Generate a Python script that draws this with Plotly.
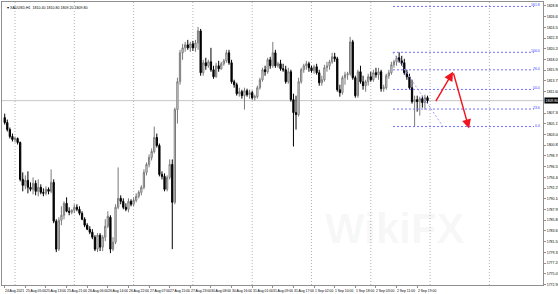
import plotly.graph_objects as go

# ---------------- data (XAUUSD H1) ----------------
bars = list(range(165))
opens = [1806.4,1805.4,1804.0,1802.6,1802.0,1802.2,1801.4,1794.0,1792.8,1793.8,
 1792.4,1792.0,1793.2,1791.6,1792.4,1791.4,1791.2,1792.0,1791.6,1793.4,
 1785.6,1780.0,1785.8,1786.8,1789.2,1787.6,1787.4,1787.8,1788.4,1788.0,
 1787.2,1786.0,1784.8,1784.0,1783.4,1782.4,1780.0,1782.8,1780.4,1782.4,
 1784.6,1786.4,1780.0,1781.4,1788.4,1790.2,1789.6,1788.4,1788.0,1789.6,
 1789.0,1789.8,1790.6,1791.4,1792.4,1795.4,1797.0,1798.4,1799.6,1802.4,
 1800.8,1795.0,1794.6,1792.0,1794.4,1797.0,1789.4,1808.0,1813.6,1819.4,
 1820.4,1821.0,1820.4,1821.2,1820.4,1821.4,1823.8,1815.4,1817.4,1816.8,
 1817.6,1816.0,1814.6,1816.8,1816.2,1817.2,1817.8,1819.4,1817.4,1813.6,
 1813.0,1811.2,1811.6,1810.8,1811.8,1811.0,1811.4,1810.4,1810.6,1812.4,
 1814.0,1816.0,1815.6,1818.0,1816.8,1819.4,1816.8,1817.2,1816.2,1816.0,
 1813.6,1815.6,1810.0,1807.4,1807.0,1813.6,1816.0,1816.8,1817.2,1816.4,
 1815.8,1816.6,1815.4,1813.4,1814.0,1816.4,1816.8,1817.6,1818.6,1818.2,
 1812.0,1811.4,1814.4,1815.0,1815.2,1821.6,1814.4,1810.8,1815.6,1813.6,
 1812.8,1813.6,1814.6,1814.0,1815.4,1815.0,1815.6,1812.2,1812.4,1814.8,
 1815.4,1817.0,1817.6,1818.4,1817.8,1817.4,1815.4,1814.6,1812.4,1809.6,
 1810.0,1809.6,1810.2,1809.4,1810.4]
highs = [1807.2,1806.0,1804.4,1803.2,1802.6,1802.4,1801.6,1795.4,1794.8,1795.6,
 1793.4,1794.4,1793.8,1794.0,1793.0,1792.2,1792.6,1792.4,1796.0,1794.0,
 1786.0,1786.4,1788.6,1789.6,1790.4,1788.4,1788.0,1789.0,1789.0,1788.6,
 1787.6,1786.4,1785.2,1784.6,1784.0,1782.8,1783.2,1783.2,1782.8,1786.0,
 1787.6,1786.8,1782.4,1789.0,1796.4,1790.8,1790.2,1789.2,1790.2,1790.0,
 1790.4,1791.2,1791.8,1792.8,1796.0,1797.4,1799.0,1800.2,1804.6,1803.2,
 1801.2,1795.6,1795.2,1794.8,1798.0,1798.0,1808.4,1814.4,1820.0,1821.2,
 1821.6,1822.0,1821.6,1821.8,1822.0,1824.6,1824.2,1818.0,1818.4,1818.0,
 1820.4,1816.8,1817.4,1817.8,1817.6,1818.2,1820.0,1820.0,1818.0,1814.0,
 1813.4,1812.4,1812.0,1812.4,1812.2,1812.0,1811.8,1811.0,1812.8,1814.4,
 1816.4,1816.8,1818.4,1818.6,1821.6,1820.0,1817.6,1818.0,1817.2,1816.8,
 1816.4,1816.0,1811.2,1810.8,1814.4,1816.4,1817.2,1817.8,1817.6,1816.8,
 1817.0,1817.2,1816.0,1814.8,1817.0,1817.6,1818.0,1819.4,1819.4,1818.6,
 1813.0,1814.8,1815.6,1815.6,1822.6,1822.0,1814.8,1816.0,1816.8,1814.8,
 1814.0,1815.2,1815.6,1816.0,1816.4,1816.4,1816.0,1813.0,1815.2,1816.0,
 1817.6,1818.0,1818.8,1819.5,1818.8,1818.2,1816.0,1815.2,1814.0,1810.8,
 1810.8,1810.6,1810.8,1811.0,1810.8]
lows = [1805.0,1803.6,1802.2,1801.6,1801.4,1801.0,1793.6,1791.6,1792.0,1791.2,
 1791.6,1791.0,1790.8,1790.6,1791.0,1790.6,1790.8,1791.0,1791.2,1785.2,
 1779.4,1779.6,1784.8,1786.0,1787.4,1786.8,1787.0,1787.2,1787.6,1786.8,
 1785.8,1784.4,1783.8,1783.0,1782.0,1779.6,1779.4,1779.6,1779.6,1781.6,
 1784.2,1779.2,1779.6,1781.0,1788.0,1789.0,1788.0,1787.6,1787.4,1788.6,
 1788.6,1789.4,1790.2,1790.8,1792.0,1794.8,1796.4,1797.8,1799.2,1800.4,
 1794.6,1794.0,1791.6,1791.6,1794.0,1780.0,1789.0,1805.2,1813.0,1818.0,
 1819.6,1820.0,1819.6,1819.8,1819.6,1820.0,1814.8,1814.8,1816.0,1816.4,
 1815.6,1814.2,1814.4,1815.6,1816.0,1816.8,1817.4,1817.0,1813.2,1812.4,
 1810.8,1810.6,1810.2,1808.0,1810.6,1810.2,1810.0,1809.8,1810.2,1812.0,
 1813.6,1814.8,1815.2,1816.2,1816.4,1816.4,1816.4,1815.8,1815.6,1813.2,
 1813.2,1809.6,1800.6,1804.0,1806.6,1813.2,1815.4,1816.0,1815.6,1815.4,
 1815.2,1815.0,1812.8,1812.8,1813.6,1815.6,1816.0,1817.2,1817.6,1811.6,
 1810.6,1811.0,1813.0,1814.0,1814.8,1814.0,1810.4,1810.4,1813.2,1812.0,
 1811.6,1812.8,1813.6,1813.6,1814.4,1814.0,1811.6,1811.6,1812.0,1814.2,
 1815.0,1816.4,1816.8,1817.4,1816.8,1815.0,1814.0,1812.0,1809.2,1804.6,
 1807.6,1806.8,1808.4,1808.0,1809.2]
closes = [1805.4,1804.0,1802.6,1802.0,1802.2,1801.4,1794.0,1792.8,1793.8,1792.4,
 1792.0,1793.2,1791.6,1792.4,1791.4,1791.2,1792.0,1791.6,1793.4,1785.6,
 1780.0,1785.8,1786.8,1789.2,1787.6,1787.4,1787.8,1788.4,1788.0,1787.2,
 1786.0,1784.8,1784.0,1783.4,1782.4,1780.0,1782.8,1780.4,1782.4,1784.6,
 1786.6,1780.0,1781.4,1788.4,1790.2,1789.6,1788.4,1788.0,1789.6,1789.0,
 1789.8,1790.6,1791.4,1792.4,1795.4,1797.0,1798.4,1799.6,1802.4,1800.8,
 1795.0,1794.6,1792.0,1794.4,1797.0,1789.4,1808.0,1813.6,1819.4,1820.4,
 1821.0,1820.4,1821.2,1820.4,1821.4,1823.8,1815.4,1817.4,1816.8,1817.6,
 1816.0,1814.6,1816.8,1816.2,1817.2,1817.8,1819.4,1817.4,1813.6,1813.0,
 1811.2,1811.6,1810.8,1811.8,1811.0,1811.4,1810.4,1810.6,1812.4,1814.0,
 1816.0,1815.6,1818.0,1816.8,1819.4,1816.8,1817.2,1816.2,1816.0,1813.6,
 1815.6,1810.0,1807.4,1807.0,1813.6,1816.0,1816.8,1817.2,1816.4,1815.8,
 1816.6,1815.4,1813.4,1814.0,1816.4,1816.8,1817.6,1818.6,1818.2,1812.0,
 1811.4,1814.4,1815.0,1815.2,1821.6,1814.4,1810.8,1815.6,1813.6,1812.8,
 1813.6,1814.6,1814.0,1815.4,1815.0,1815.6,1812.2,1812.4,1814.8,1815.4,
 1817.0,1817.6,1818.4,1817.8,1817.4,1815.4,1814.6,1812.4,1809.6,1810.0,
 1809.6,1810.2,1809.4,1810.4,1809.8]

date_tick_bars = [0, 8, 16, 24, 32, 40, 48, 56, 64, 72, 80, 88, 96, 104, 112, 120, 128, 136, 144, 152, 160]
date_tick_text = ["24 Aug 2021", "25 Aug 05:00", "25 Aug 13:00", "25 Aug 21:00", "26 Aug 06:00",
                  "26 Aug 14:00", "26 Aug 22:00", "27 Aug 07:00", "27 Aug 15:00", "27 Aug 23:00",
                  "30 Aug 08:00", "30 Aug 16:00", "31 Aug 01:00", "31 Aug 09:00", "31 Aug 17:00",
                  "1 Sep 02:00", "1 Sep 10:00", "1 Sep 18:00", "2 Sep 03:00", "2 Sep 11:00", "2 Sep 19:00"]
day_start_bars = [4, 27, 50, 73, 96, 119, 142, 165, 188]
price_ticks = [round(1828.80 - 2.15 * k, 2) for k in range(27)]

fib_start_bar, fib_high = 150.6, 1819.5
fib_end_bar, fib_low = 170.0, 1804.6
fib_levels = [161.8, 100.0, 76.4, 50.0, 23.6, 0.0]
arrow_path = [(166.9, 1809.4), (173.9, 1815.6), (180.1, 1804.2)]
symbol = "XAUUSD,H1"

# ---------------- figure ----------------
X_RANGE = [-1.05, 208.8]
Y_RANGE = [1772.8, 1829.6]
FONT = "Liberation Sans, Arial, sans-serif"

fig = go.Figure()
fig.add_trace(go.Candlestick(
    x=bars, open=opens, high=highs, low=lows, close=closes,
    increasing=dict(line=dict(color="#7a7a7a", width=1), fillcolor="#ffffff"),
    decreasing=dict(line=dict(color="#000000", width=1), fillcolor="#000000"),
    whiskerwidth=0, showlegend=False, hoverinfo="skip"))

shapes = []
for b in day_start_bars:
    shapes.append(dict(type="line", xref="x", yref="paper", x0=b, x1=b, y0=0, y1=1,
                       line=dict(color="#b4b4b4", width=1, dash="1px,2px"), layer="below"))
last_close = closes[-1]
shapes.append(dict(type="line", xref="paper", yref="y", x0=0, x1=1, y0=last_close, y1=last_close,
                   line=dict(color="#c8c8c8", width=1), layer="below"))
rng = fib_high - fib_low
annotations = []
for lv in fib_levels:
    p = fib_low + rng * lv / 100.0
    shapes.append(dict(type="line", xref="x", yref="y", x0=fib_start_bar, x1=X_RANGE[1] - 3.5, y0=p, y1=p,
                       line=dict(color="#6f6fff", width=1, dash="2px,2px")))
    annotations.append(dict(x=X_RANGE[1] - 0.4, y=p, xref="x", yref="y", text=f"{lv:.1f}",
                            showarrow=False, xanchor="right", yanchor="middle", yshift=1,
                            font=dict(family=FONT, size=3.5, color="#3a3aff")))
shapes.append(dict(type="line", xref="x", yref="y", x0=fib_start_bar, y0=fib_high, x1=fib_end_bar, y1=fib_low,
                   line=dict(color="#a0a0ff", width=1, dash="2px,2px")))

# red arrows
for (ax_, ay_), (hx, hy) in zip(arrow_path[:-1], arrow_path[1:]):
    annotations.append(dict(x=hx, y=hy, ax=ax_, ay=ay_, xref="x", yref="y", axref="x", ayref="y",
                            text="", showarrow=True, arrowhead=2, arrowsize=1.3, arrowwidth=1.4,
                            arrowcolor="#f0141e"))

# title
annotations.append(dict(x=0, y=1, xref="paper", yref="paper", xanchor="left", yanchor="top",
                        xshift=3, yshift=-2, showarrow=False,
                        text=f"\u25be {symbol}  {opens[-1]:.2f} {highs[-1]:.2f} {lows[-1]:.2f} {closes[-1]:.2f}",
                        font=dict(family=FONT, size=3.6, color="#000000")))
# current price label
annotations.append(dict(x=1, y=last_close, xref="paper", yref="y", xanchor="left", yanchor="middle",
                        xshift=1, showarrow=False, text=f"{last_close:.2f}", bgcolor="#000000",
                        borderpad=0.5, font=dict(family=FONT, size=3.5, color="#ffffff")))
# date labels
for b, t in zip(date_tick_bars, date_tick_text):
    annotations.append(dict(x=b, y=0, xref="x", yref="paper", xanchor="left", yanchor="top",
                            xshift=-1.5, yshift=-1.5, showarrow=False, text=t,
                            font=dict(family=FONT, size=3.4, color="#000000")))
# watermark
annotations.append(dict(x=0.86, y=0.11, xref="paper", yref="paper", showarrow=False, text="<b>WikiFX</b>",
                        font=dict(family=FONT, size=42, color="rgba(0,0,0,0.045)")))

# hide the price tick label that sits under the current-price box
shown_ticks = [v for v in price_ticks if abs(v - last_close) > 1.2]

fig.update_layout(
    width=558, height=294,
    margin=dict(l=2, r=15, t=2, b=9, autoexpand=False),
    paper_bgcolor="#ffffff", plot_bgcolor="#ffffff",
    template="none", showlegend=False,
    shapes=shapes, annotations=annotations,
    xaxis=dict(range=X_RANGE, showgrid=False, zeroline=False, rangeslider=dict(visible=False),
               showline=True, linecolor="#909090", linewidth=1, mirror=True,
               tickmode="array", tickvals=date_tick_bars, ticks="outside", ticklen=2,
               tickcolor="#909090", showticklabels=False, automargin=False),
    yaxis=dict(range=Y_RANGE, side="right", showgrid=False, zeroline=False,
               showline=True, linecolor="#909090", linewidth=1, mirror=True,
               tickmode="array", tickvals=shown_ticks, ticktext=[f"{v:.2f}" for v in shown_ticks],
               ticks="outside", ticklen=2, tickcolor="#909090",
               tickfont=dict(family=FONT, size=3.5, color="#000000"), automargin=False),
)

fig.write_html("out.html")
